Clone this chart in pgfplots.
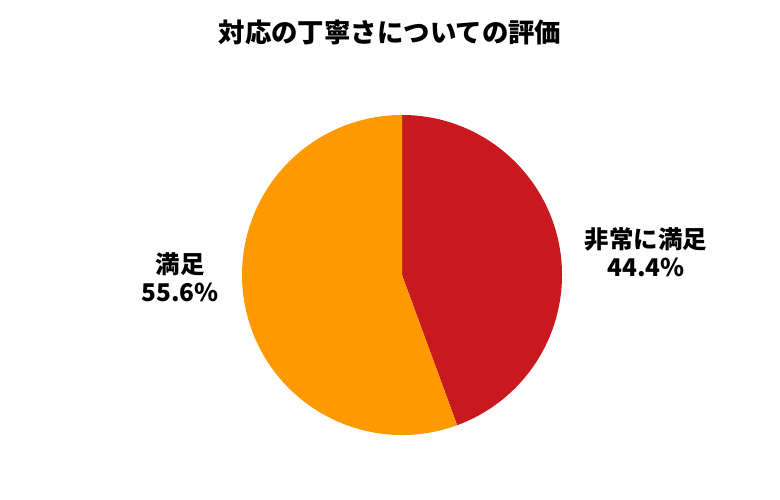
\documentclass[border=0pt]{standalone}
\usepackage{pgfplots}
\pgfplotsset{compat=1.18}
\usepackage{fontspec}
\setmainfont{Noto Sans CJK JP}
\definecolor{pieRed}{HTML}{C8191E}
\definecolor{pieOrange}{HTML}{FF9900}

% slice shares in percent
\def\pctA{44.4}
\def\pctB{55.6}

\begin{document}
\begin{tikzpicture}
\begin{axis}[
    width=780bp, height=500bp, scale only axis,
    xmin=0, xmax=780, ymin=0, ymax=500,
    hide axis, clip=false,
]
\path[fill=white, use as bounding box] (axis cs:0,0) rectangle (axis cs:780,500);
% pie: center (402,225), radius 160
\fill[pieRed] (axis cs:402,225) -- (axis cs:402,385)
    arc[start angle=90, end angle={90-\pctA*3.6}, radius=160bp] -- cycle;
\fill[pieOrange] (axis cs:402,225) -- ++({90-\pctA*3.6}:160bp)
    arc[start angle={90-\pctA*3.6}, end angle={90-\pctA*3.6-\pctB*3.6}, radius=160bp] -- cycle;

\node[font=\fontsize{26.5}{30}\selectfont\bfseries] at (axis cs:390,468) {対応の丁寧さについての評価};
\node[font=\fontsize{24.5}{28.5}\selectfont\bfseries, align=center] at (axis cs:646,248)
    {非常に満足\\44.4\%};
\node[font=\fontsize{24.5}{28.5}\selectfont\bfseries, align=center] at (axis cs:180,223)
    {満足\\55.6\%};
\end{axis}
\end{tikzpicture}
\end{document}
